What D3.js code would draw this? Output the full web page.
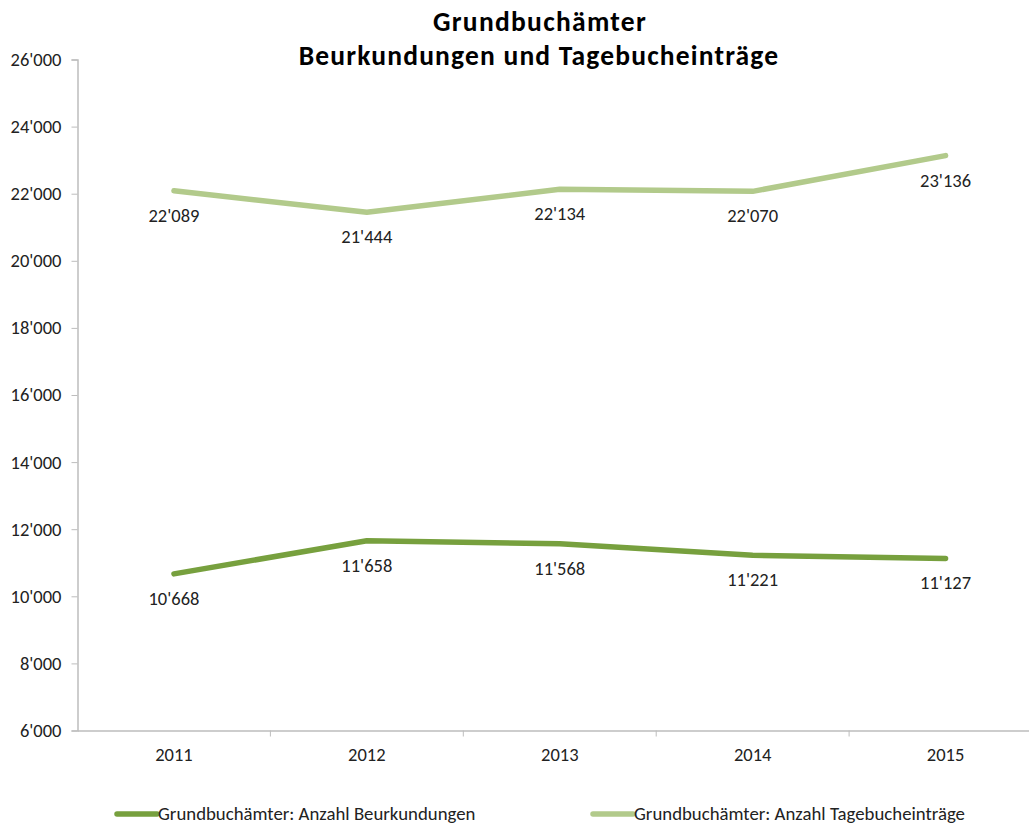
<!DOCTYPE html>
<html><head><meta charset="utf-8">
<script src="https://cdn.jsdelivr.net/npm/d3@7"></script>
<style>body{margin:0;background:#fff;} svg{display:block;font-family:Carlito,Calibri,Lato,"Open Sans",sans-serif;}</style>
</head><body>
<svg id="c" width="1029" height="825"></svg>
<script>
const years = ["2011","2012","2013","2014","2015"];
const beurkundungen = [10668, 11658, 11568, 11221, 11127];
const tagebuch = [22089, 21444, 22134, 22070, 23136];
const yTicks = [6000,8000,10000,12000,14000,16000,18000,20000,22000,24000,26000];
const seriesNames = ["Grundbuchämter: Anzahl Beurkundungen","Grundbuchämter: Anzahl Tagebucheinträge"];
const colors = ["#77A03E","#B2CA8B"];
const titleLines = ["Grundbuchämter","Beurkundungen und Tagebucheinträge"];

(function(){
const svg = d3.select("#c");
const mL = 77.5, mR = 1042, mT = 59.5, mB = 730.5;
const x = d3.scaleBand().domain(years).range([mL, mR]);
const y = d3.scaleLinear().domain([6000, 26000]).range([mB, mT]);
const fmt = v => d3.format(",")(v).replace(/,/g, "'");
const ff = "Carlito,Calibri,Lato,sans-serif";

svg.append("text").attr("x", 540).attr("y", 31).attr("text-anchor","middle")
  .attr("font-size", 27.5).attr("letter-spacing", 1.3).attr("font-weight","bold").text(titleLines[0]);
svg.append("text").attr("x", 539).attr("y", 65).attr("text-anchor","middle")
  .attr("font-size", 27.5).attr("letter-spacing", 1.2).attr("font-weight","bold").text(titleLines[1]);

const ya = svg.append("g").attr("transform", `translate(${mL},0)`)
  .call(d3.axisLeft(y).tickValues(yTicks).tickFormat(fmt).tickSize(6).tickPadding(10));
ya.select(".domain").attr("stroke","#bdbdbd").attr("stroke-width",1.5);
ya.selectAll(".tick line").attr("stroke","#bdbdbd");
ya.selectAll("text").attr("font-size",18.5).attr("fill","#222").attr("font-family",ff);

const xa = svg.append("g").attr("transform", `translate(0,${mB})`)
  .call(d3.axisBottom(x).tickSize(0).tickPadding(17));
xa.select(".domain").attr("stroke","#bdbdbd").attr("stroke-width",1.5);
xa.selectAll("text").attr("font-size",18.5).attr("fill","#222").attr("font-family",ff);
svg.append("g").selectAll("line").data(years.slice(1)).join("line")
  .attr("x1", d => x(d)).attr("x2", d => x(d))
  .attr("y1", mB).attr("y2", mB + 6).attr("stroke","#bdbdbd");

const cx = d => x(d) + x.bandwidth()/2;
const line = d3.line().x((d,i) => cx(years[i])).y(d => y(d));

[beurkundungen, tagebuch].forEach((s, k) => {
  svg.append("path").datum(s).attr("d", line).attr("fill","none")
    .attr("stroke", colors[k]).attr("stroke-width", 5.5)
    .attr("stroke-linecap","round").attr("stroke-linejoin","round");
  svg.append("g").selectAll("text").data(s).join("text")
    .attr("x", (d,i) => cx(years[i])).attr("y", d => y(d) + 31)
    .attr("text-anchor","middle").attr("font-size",18.5).attr("fill","#222")
    .text(d => fmt(d));
});

const legX = [117, 593];
seriesNames.forEach((n, k) => {
  svg.append("line").attr("x1", legX[k]).attr("x2", legX[k] + 40)
    .attr("y1", 814).attr("y2", 814).attr("stroke", colors[k]).attr("stroke-width", 5.5)
    .attr("stroke-linecap","round");
  svg.append("text").attr("x", legX[k] + 41).attr("y", 820).attr("font-size",18.8)
    .attr("fill","#222").text(n);
});
})();
</script>
</body></html>
